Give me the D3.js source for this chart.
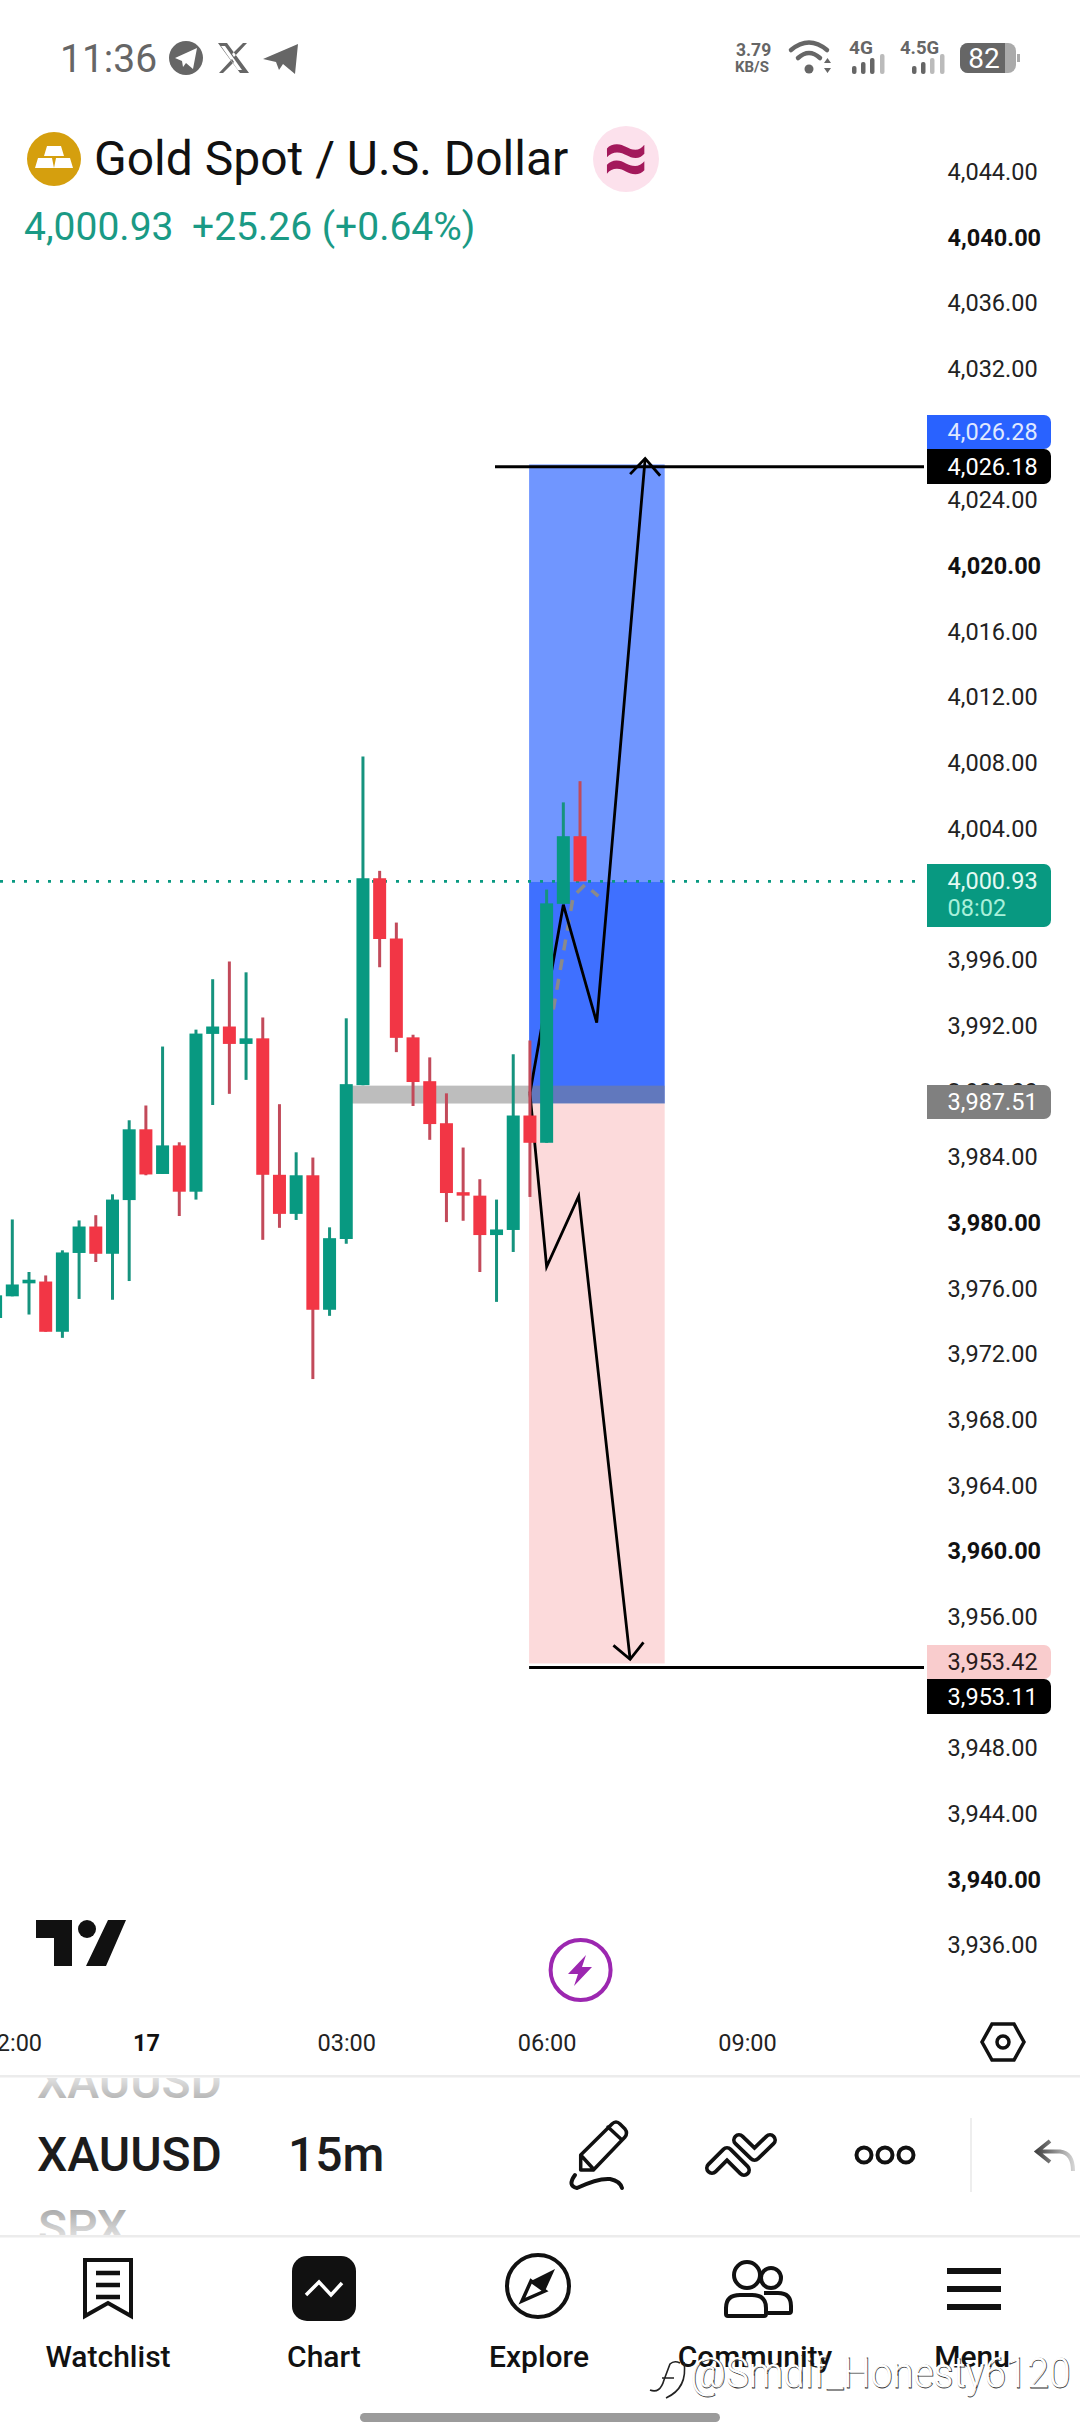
<!DOCTYPE html>
<html>
<head>
<meta charset="utf-8">
<script src="https://cdn.jsdelivr.net/npm/d3@7/dist/d3.min.js"></script>
<style>
  html, body { margin: 0; padding: 0; background: #fff; }
  svg { display: block; font-family: Roboto, sans-serif; }
</style>
</head>
<body>
<svg id="chart" width="1080" height="2436"></svg>
<script>
// candle data. index 0 is the 22:00 bar, 15m per bar
const opens = [3974.21, 3975.53, 3976.32, 3976.43, 3973.37, 3978.17, 3979.78, 3978.12, 3981.39, 3985.70, 3982.98, 3984.72, 3981.90, 3991.51, 3991.96, 3990.90, 3991.24, 3982.93, 3980.55, 3982.90, 3974.71, 3979.02, 3988.39, 4000.99, 3997.32, 3991.30, 3988.63, 3986.07, 3981.87, 3981.66, 3979.26, 3979.57, 3986.54, 3984.88, 3999.43, 4003.55];
const highs = [3976.20, 3980.21, 3977.01, 3976.80, 3978.33, 3980.15, 3980.47, 3981.74, 3986.25, 3987.15, 3990.74, 3984.91, 3991.77, 3994.84, 3995.92, 3995.26, 3992.51, 3987.23, 3984.30, 3983.98, 3979.73, 3992.46, 4008.41, 4001.44, 3998.29, 3991.46, 3990.08, 3987.89, 3984.59, 3982.66, 3981.42, 3990.27, 3991.11, 4000.30, 4005.61, 4006.90];
const lows = [3973.50, 3975.53, 3974.42, 3973.37, 3973.00, 3975.37, 3977.62, 3975.32, 3976.46, 3982.90, 3982.98, 3980.42, 3981.42, 3987.18, 3987.86, 3988.71, 3978.97, 3979.70, 3980.18, 3970.49, 3974.34, 3978.73, 3988.39, 3995.57, 3990.40, 3987.12, 3985.06, 3980.05, 3980.13, 3977.01, 3975.19, 3978.23, 3981.58, 3984.88, 3999.43, 4000.80];
const closes = [3975.59, 3976.25, 3976.54, 3973.37, 3978.20, 3979.78, 3978.12, 3981.42, 3985.70, 3982.95, 3984.72, 3981.90, 3991.53, 3991.96, 3990.90, 3991.24, 3982.93, 3980.55, 3982.90, 3974.71, 3979.07, 3988.45, 4000.99, 3997.29, 3991.27, 3988.58, 3986.02, 3981.82, 3981.66, 3979.26, 3979.60, 3986.54, 3984.88, 3999.46, 4003.55, 4000.80];
const firstBar = -1;

const priceTicks = [4044, 4040, 4036, 4032, 4028, 4024, 4020, 4016, 4012, 4008, 4004, 4000, 3996, 3992, 3988, 3984, 3980, 3976, 3972, 3968, 3964, 3960, 3956, 3952, 3948, 3944, 3940, 3936];
const hiddenTicks = [4028, 3952];
const timeTicks = [0, 8, 20, 32, 44];
const timeLabels = ['22:00', '17', '03:00', '06:00', '09:00'];

// long position tool
const boxStart = 30.95, boxEnd = 39.07;
const targetPrice = 4026.19, lastPrice = 4000.93, lastLine = 4000.80, entryPrice = 3987.27, stopEdge = 3953.17;
const entryBandTop = 3988.36, entryBandStart = 20;
const targetLine = 4026.05, stopLine = 3952.93;

// hand drawn arrows, [bar, price]
const upArrow = [[31, 3987.9], [33, 3999.38], [35, 3992.2], [37.9, 4026.55]];
const upHead = [[37.0, 4025.6], [37.9, 4026.55], [38.8, 4025.5]];
const downArrow = [[31, 3987.9], [32, 3977.33], [33.92, 3981.63], [37, 3953.42]];
const downHead = [[36, 3954.27], [37, 3953.42], [37.8, 3954.45]];
const projection = [[32.4, 3993], [33.6, 3999.9], [34.3, 4000.6], [35.1, 3999.9]];

const priceTags = [
  { label: '4,026.28', top: 415, h: 34, fill: '#2962ff', text: '#dfe8ff' },
  { label: '4,026.18', top: 449, h: 35, fill: '#000', text: '#fff' },
  { label: '3,987.51', top: 1085, h: 34, fill: '#808080', text: '#fff' },
  { label: '3,953.42', top: 1645, h: 34, fill: '#f9cccd', text: '#2a1a1a' },
  { label: '3,953.11', top: 1679, h: 35, fill: '#000', text: '#fff' }
];

const navItems = ['Watchlist', 'Chart', 'Explore', 'Community', 'Menu'];
const navX = [108, 324, 539, 755, 972];

const GREEN = '#089981', RED = '#f23645', INK = '#111';
const svg = d3.select('#chart');

const x = d3.scaleLinear().domain([0, 44]).range([12.3, 747]);
const y = d3.scaleLinear().domain([3936, 4044]).range([1945.4, 172]);
const fmt = d3.format(',.2f');
const line = d3.line().x((d) => x(d[0])).y((d) => y(d[1]));

const defs = svg.append('defs');
const fade = (id, y1, y2, c1, c2) => {
  const g = defs.append('linearGradient').attr('id', id).attr('gradientUnits', 'userSpaceOnUse')
    .attr('x1', 0).attr('x2', 0).attr('y1', y1).attr('y2', y2);
  g.append('stop').attr('offset', 0).attr('stop-color', c1);
  g.append('stop').attr('offset', 1).attr('stop-color', c2);
};
fade('fadeTop', 2076, 2100, '#e4e4e4', '#b4b4b4');
fade('fadeBottom', 2208, 2236, '#a8a8a8', '#dedede');
defs.append('linearGradient').attr('id', 'undoFade').attr('gradientUnits', 'userSpaceOnUse')
  .attr('x1', 1037).attr('x2', 1074).attr('y1', 0).attr('y2', 0)
  .call((g) => {
    g.append('stop').attr('offset', 0).attr('stop-color', '#444');
    g.append('stop').attr('offset', 1).attr('stop-color', '#d5d5d5');
  });
defs.append('clipPath').attr('id', 'pickerClip').append('rect')
  .attr('x', 0).attr('y', 2078).attr('width', 1080).attr('height', 157);

/* status bar */
const status = svg.append('g').attr('fill', '#666');
status.append('text').attr('x', 60).attr('y', 72).attr('font-size', 39).text('11:36');
status.append('circle').attr('cx', 186).attr('cy', 58).attr('r', 17);
status.append('path').attr('d', 'M175 58 L197 48 L193 69 L186 63 L183 67 L182 61 Z').attr('fill', '#fff');
status.append('path').attr('d', 'M218 43 h9 l22 30 h-9 Z M221 46 l17 24 h4 l-17 -24 Z M247 43 l-13 14 -2 -3 11 -11 Z M219 73 l13 -14 2 3 -11 11 Z').attr('fill-rule', 'evenodd');
status.append('path').attr('d', 'M263 59 L298 44 L295 74 L283 64 L279 70 L276 62 Z');
status.append('text').attr('x', 736).attr('y', 56).attr('font-size', 17.5).attr('font-weight', 700).text('3.79');
status.append('text').attr('x', 735).attr('y', 72).attr('font-size', 15).attr('font-weight', 700).text('KB/S');
status.append('path').attr('d', 'M791 50 Q809 35 827 50 M798 58 Q809 48 820 58').attr('fill', 'none').attr('stroke', '#666').attr('stroke-width', 4.5).attr('stroke-linecap', 'round');
status.append('circle').attr('cx', 809).attr('cy', 69).attr('r', 4.5);
status.append('path').attr('d', 'M824 63 h7 l-3.5 -5 Z M824 68 h7 l-3.5 5 Z');
status.append('text').attr('x', 849).attr('y', 54).attr('font-size', 19).attr('font-weight', 700).text('4G');
status.append('text').attr('x', 900).attr('y', 54).attr('font-size', 18.5).attr('font-weight', 700).text('4.5G');
[[852, 66], [861, 62], [870, 58], [880, 54]].forEach((b, i) => {
  status.append('rect').attr('x', b[0]).attr('y', b[1]).attr('width', 4.5).attr('height', 74 - b[1]).attr('rx', 2).attr('fill', i === 3 ? '#bbb' : '#666');
});
[[912, 66], [921, 62], [930, 58], [940, 54]].forEach((b, i) => {
  status.append('rect').attr('x', b[0]).attr('y', b[1]).attr('width', 4.5).attr('height', 74 - b[1]).attr('rx', 2).attr('fill', i >= 2 ? '#bbb' : '#666');
});
status.append('rect').attr('x', 960).attr('y', 43).attr('width', 56).attr('height', 30).attr('rx', 8).attr('fill', '#aaa');
status.append('path').attr('d', 'M968 43 H1005 V73 H968 a8 8 0 0 1 -8 -8 V51 a8 8 0 0 1 8 -8 Z');
status.append('rect').attr('x', 1017).attr('y', 54).attr('width', 3).attr('height', 8).attr('fill', '#aaa');
status.append('text').attr('x', 984).attr('y', 68).attr('font-size', 28).attr('text-anchor', 'middle').attr('fill', '#fff').text('82');

/* symbol header */
svg.append('circle').attr('cx', 54).attr('cy', 159).attr('r', 27).attr('fill', '#d59f0e');
svg.append('path').attr('fill', '#fff')
  .attr('d', 'M47 146 h14 l3 10 h-20 Z M38 158 h14 l2 10 h-19 Z M56 158 h14 l3 10 h-19 Z');
svg.append('text').attr('x', 94).attr('y', 175).attr('font-size', 48).attr('fill', INK).text('Gold Spot / U.S. Dollar');
svg.append('circle').attr('cx', 626).attr('cy', 159).attr('r', 33).attr('fill', '#fce1ec');
svg.append('text').attr('x', 626).attr('y', 184).attr('font-size', 80).attr('font-weight', 700).attr('text-anchor', 'middle').attr('fill', '#a3195b').text('≈');
svg.append('text').attr('x', 24).attr('y', 240).attr('font-size', 39).attr('fill', '#1a9a85').text('4,000.93');
svg.append('text').attr('x', 192).attr('y', 240).attr('font-size', 39).attr('fill', '#1a9a85').text('+25.26 (+0.64%)');

/* position tool */
const bx = x(boxStart), bw = x(boxEnd) - x(boxStart);
svg.append('rect').attr('x', bx).attr('width', bw).attr('y', y(targetPrice)).attr('height', y(lastLine) - y(targetPrice)).attr('fill', '#7096ff');
svg.append('rect').attr('x', bx).attr('width', bw).attr('y', y(lastLine)).attr('height', y(entryPrice) - y(lastLine)).attr('fill', '#3f70ff');
svg.append('rect').attr('x', bx).attr('width', bw).attr('y', y(entryPrice)).attr('height', y(stopEdge) - y(entryPrice)).attr('fill', '#fcdadb');
svg.append('rect').attr('x', x(entryBandStart)).attr('width', x(boxEnd) - x(entryBandStart)).attr('y', y(entryBandTop)).attr('height', y(entryPrice) - y(entryBandTop)).attr('fill', '#808080').attr('opacity', 0.52);

svg.append('path').attr('d', line(projection)).attr('fill', 'none').attr('stroke', '#8a8a8a').attr('stroke-width', 3.5).attr('stroke-dasharray', '11 9');

svg.append('line').attr('x1', 495).attr('x2', 924).attr('y1', y(targetLine)).attr('y2', y(targetLine)).attr('stroke', '#000').attr('stroke-width', 3);
svg.append('line').attr('x1', bx).attr('x2', 924).attr('y1', y(stopLine)).attr('y2', y(stopLine)).attr('stroke', '#000').attr('stroke-width', 3);

[upArrow, upHead, downArrow, downHead].forEach((pts) => {
  svg.append('path').attr('d', line(pts)).attr('fill', 'none').attr('stroke', '#000').attr('stroke-width', 2.8).attr('stroke-linejoin', 'miter');
});

/* last price line */
svg.append('line').attr('x1', 0).attr('x2', 916).attr('y1', y(lastLine)).attr('y2', y(lastLine))
  .attr('stroke', GREEN).attr('stroke-width', 2.8).attr('stroke-dasharray', '3 9');

/* candles */
const bars = opens.map((o, i) => ({ i: firstBar + i, o, h: highs[i], l: lows[i], c: closes[i] }));
const candle = svg.append('g').selectAll('g').data(bars).join('g');
candle.append('line')
  .attr('x1', (d) => x(d.i)).attr('x2', (d) => x(d.i))
  .attr('y1', (d) => y(d.h)).attr('y2', (d) => y(d.l))
  .attr('stroke', (d) => (d.c >= d.o ? '#16937e' : '#c24a5a')).attr('stroke-width', 3);
candle.append('rect')
  .attr('x', (d) => x(d.i) - 6.5).attr('width', 13)
  .attr('y', (d) => y(Math.max(d.o, d.c)))
  .attr('height', (d) => Math.max(3, Math.abs(y(d.o) - y(d.c))))
  .attr('fill', (d) => (d.c >= d.o ? GREEN : RED));

/* price axis */
const priceAxis = svg.append('g').attr('transform', 'translate(947.6,0)')
  .call(d3.axisRight(y).tickValues(priceTicks.filter((t) => !hiddenTicks.includes(t))).tickSize(0).tickPadding(0).tickFormat(fmt));
priceAxis.select('.domain').remove();
priceAxis.selectAll('text')
  .attr('font-family', 'Roboto, sans-serif')
  .attr('font-size', 23.5)
  .attr('font-weight', (d) => (d % 20 === 0 ? 700 : 400))
  .attr('fill', (d) => (d % 20 === 0 ? INK : '#222'));

const tag = svg.append('g').selectAll('g').data(priceTags).join('g');
tag.append('path').attr('fill', (d) => d.fill)
  .attr('d', (d) => `M927 ${d.top} H1044 a7 7 0 0 1 7 7 V${d.top + d.h - 7} a7 7 0 0 1 -7 7 H927 Z`);
tag.append('text').attr('x', 947.6).attr('y', (d) => d.top + d.h / 2 + 8.4).attr('font-size', 23.5).attr('fill', (d) => d.text).text((d) => d.label);
svg.append('path').attr('fill', GREEN).attr('d', 'M927 864 H1044 a7 7 0 0 1 7 7 V920 a7 7 0 0 1 -7 7 H927 Z');
svg.append('text').attr('x', 947.6).attr('y', 888.5).attr('font-size', 23.5).attr('fill', '#e3faf3').text(fmt(lastPrice));
svg.append('text').attr('x', 947.6).attr('y', 916).attr('font-size', 23.5).attr('fill', '#a8f0da').text('08:02');

/* time axis */
const timeAxis = svg.append('g').attr('transform', 'translate(0,2034)')
  .call(d3.axisBottom(x).tickValues(timeTicks).tickSize(0).tickPadding(0).tickFormat((d, i) => timeLabels[i]));
timeAxis.select('.domain').remove();
timeAxis.selectAll('text')
  .attr('font-family', 'Roboto, sans-serif')
  .attr('font-size', 23.5)
  .attr('dy', '0.71em')
  .attr('y', 0)
  .attr('font-weight', (d) => (d === 8 ? 700 : 400))
  .attr('fill', (d) => (d === 8 ? INK : '#222'));

/* tradingview logo, replay button, settings */
svg.append('path').attr('fill', INK).attr('d', 'M36 1920 H72 V1966 H54 V1938 H36 Z M108 1920 H126 L106 1966 H86 Z');
svg.append('circle').attr('cx', 87).attr('cy', 1929).attr('r', 9).attr('fill', INK);
svg.append('circle').attr('cx', 580.6).attr('cy', 1970).attr('r', 30).attr('fill', '#fff').attr('stroke', '#9c27b0').attr('stroke-width', 4);
svg.append('path').attr('fill', '#9c27b0').attr('d', 'M586 1955 L568 1974 H578 L574 1986 L592 1967 H582 Z');
svg.append('path').attr('fill', 'none').attr('stroke', INK).attr('stroke-width', 3.5)
  .attr('d', 'M992 2024 H1014 L1024 2042 L1014 2060 H992 L982 2042 Z');
svg.append('circle').attr('cx', 1003).attr('cy', 2042).attr('r', 6).attr('fill', 'none').attr('stroke', INK).attr('stroke-width', 3.5);

/* symbol picker row */
svg.append('rect').attr('x', 0).attr('y', 2075).attr('width', 1080).attr('height', 2.5).attr('fill', '#ececec');
const picker = svg.append('g').attr('clip-path', 'url(#pickerClip)').attr('font-size', 48).attr('font-weight', 500);
picker.append('text').attr('x', 37).attr('y', 2098).attr('fill', 'url(#fadeTop)').text('XAUUSD');
picker.append('text').attr('x', 37).attr('y', 2171).attr('fill', '#1c1c1c').text('XAUUSD');
picker.append('text').attr('x', 288).attr('y', 2171).attr('fill', '#1c1c1c').text('15m');
picker.append('text').attr('x', 38).attr('y', 2244).attr('fill', 'url(#fadeBottom)').text('SPX');

const toolbar = svg.append('g').attr('fill', 'none').attr('stroke', INK).attr('stroke-width', 3.5).attr('stroke-linejoin', 'round').attr('stroke-linecap', 'round');
toolbar.append('path').attr('d', 'M580.7 2170 V2155 L612 2124 Q616 2120 620 2124 L625 2129 Q628 2133 625 2137 L593.4 2170 Z M580.7 2155 L593.4 2169 M608 2127 L622 2140');
toolbar.append('path').attr('stroke-width', 4).attr('d', 'M575 2175 Q567 2186 577 2188 Q598 2178 610 2179 Q620 2181 622 2188');
toolbar.append('path').attr('stroke-width', 14).attr('d', 'M712 2168 L727 2153 L744 2170 M739 2140 L754.5 2155 L770 2140');
toolbar.append('path').attr('stroke', '#fff').attr('stroke-width', 6.5).attr('d', 'M712 2168 L727 2153 L744 2170 M739 2140 L754.5 2155 L770 2140');
[864, 885, 906].forEach((cx) => toolbar.append('circle').attr('cx', cx).attr('cy', 2155).attr('r', 7.5).attr('stroke-width', 4));
svg.append('line').attr('x1', 971).attr('x2', 971).attr('y1', 2118).attr('y2', 2192).attr('stroke', '#eee').attr('stroke-width', 2);
svg.append('path').attr('fill', 'none').attr('stroke', 'url(#undoFade)').attr('stroke-width', 4)
  .attr('d', 'M1050 2141 L1037 2151.5 L1050 2162 M1037 2151.5 H1060 Q1073 2153 1073 2171');

/* bottom navigation */
svg.append('rect').attr('x', 0).attr('y', 2235).attr('width', 1080).attr('height', 2.5).attr('fill', '#ececec');
const icons = svg.append('g').attr('fill', 'none').attr('stroke', INK).attr('stroke-width', 4);
icons.append('path').attr('d', 'M85 2260 H131 V2316 L108 2303 L85 2316 Z');
icons.append('path').attr('d', 'M96 2273 H120 M96 2285 H120 M96 2297 H120').attr('stroke-width', 4.5);
svg.append('rect').attr('x', 292).attr('y', 2256).attr('width', 64).attr('height', 65).attr('rx', 15).attr('fill', INK);
svg.append('path').attr('d', 'M306 2295 L319 2282 L331 2295 L342 2283').attr('fill', 'none').attr('stroke', '#fff').attr('stroke-width', 3.5);
icons.append('circle').attr('cx', 538).attr('cy', 2286).attr('r', 31);
svg.append('path').attr('fill', INK).attr('d', 'M555 2269 L531 2281 L545 2291 Z');
icons.append('path').attr('stroke-width', 3.5).attr('d', 'M531 2281 L522 2301 L545 2291 Z');
icons.append('ellipse').attr('cx', 747).attr('cy', 2275).attr('rx', 13).attr('ry', 13);
icons.append('ellipse').attr('cx', 771).attr('cy', 2278).attr('rx', 10).attr('ry', 10);
icons.append('path').attr('d', 'M726 2314 V2308 Q726 2295 740 2295 H752 Q766 2295 766 2308 V2314 Q766 2316 764 2316 H728 Q726 2316 726 2314 Z');
icons.append('path').attr('d', 'M764 2293 H778 Q791 2293 791 2306 V2311 Q791 2313 789 2313 H768');
svg.append('path').attr('fill', 'none').attr('stroke', INK).attr('stroke-width', 6).attr('d', 'M947 2271 H1001 M947 2289 H1001 M947 2307 H1001');

svg.append('g').selectAll('text').data(navItems).join('text')
  .attr('x', (d, i) => navX[i]).attr('y', 2367)
  .attr('text-anchor', 'middle').attr('font-size', 30).attr('font-weight', 500).attr('fill', INK)
  .text((d) => d);

/* watermark */
const mark = '@Smdif_Honesty6120';
[[691, 2388, 'none', '#333'], [690, 2387, '#fff', 'none']].forEach((m) => {
  svg.append('text').attr('x', m[0]).attr('y', m[1]).attr('font-size', 42).attr('font-weight', 300)
    .attr('textLength', 380).attr('lengthAdjust', 'spacingAndGlyphs')
    .attr('fill', m[2]).attr('stroke', m[3]).attr('stroke-width', 0.8).text(mark);
});
svg.append('path').attr('fill', 'none').attr('stroke', '#222').attr('stroke-width', 1.6)
  .attr('d', 'M650 2390 Q660 2394 664 2380 L670 2364 Q674 2360 680 2363 M662 2378 H674 M684 2362 Q688 2388 666 2398');

svg.append('rect').attr('x', 360).attr('y', 2413).attr('width', 360).attr('height', 9).attr('rx', 4.5).attr('fill', '#9b9b9b');
</script>
</body>
</html>
